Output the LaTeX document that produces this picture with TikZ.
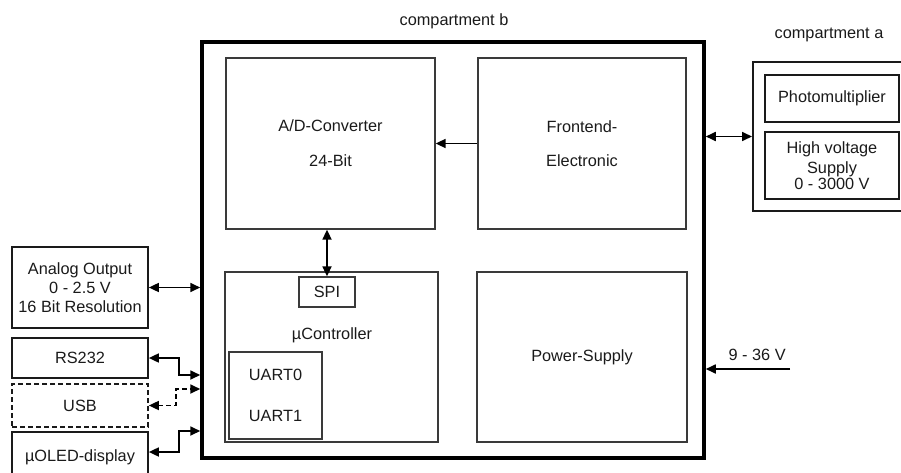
\documentclass[tikz,border=0pt]{standalone}
\usepackage{fontspec}
\setmainfont{Liberation Sans}
\usetikzlibrary{arrows.meta,positioning}
\definecolor{ink}{HTML}{1A1A1A}
\definecolor{edge}{HTML}{3A3A3A}
\tikzset{
  lbl/.style={font=\fontsize{16.3}{18.8}\selectfont,text=ink,align=center,inner sep=0pt},
  unit/.style={lbl,draw=edge,line width=1.3pt},
  sidebox/.style={lbl,draw=ink,line width=1.7pt,minimum width=136pt},
  frame/.style={draw=black,line width=3.5pt},
  arr/.style={-{Triangle[length=10pt,width=9pt]},line width=1.7pt,draw=black},
  biarr/.style={arr,{Triangle[length=10pt,width=9pt]}-{Triangle[length=10pt,width=9pt]}},
  dasharr/.style={biarr,dash pattern=on 5pt off 3pt},
}
\begin{document}
\begin{tikzpicture}[x=1pt,y=-1pt]
  \useasboundingbox (0,0) rectangle (901,473);
  \clip (0,0) rectangle (901,473);
  % compartment b
  \node[frame,minimum width=502pt,minimum height=416pt] (compB) at (453,250) {};
  \node[lbl] (titleB) at (454,21) {compartment b};
  \node[unit,minimum width=209pt,minimum height=171pt] (adc) at (330.5,143.5) {A/D-Converter\\[16pt]24-Bit};
  \node[unit,minimum width=208pt,minimum height=171pt] (fe) at (582,143.5) {Frontend-\\[15pt]Electronic};
  \node[unit,minimum width=213pt,minimum height=170pt] (mcu) at (331.5,357) {};
  \node[lbl] (mcutxt) at (332,335) {µController};
  \node[unit,minimum width=56pt,minimum height=30pt] (spi) at (327,292) {SPI};
  \node[unit,minimum width=93pt,minimum height=87pt,align=left] (uart) at (275.5,395.5) {UART0\\[22pt]UART1};
  \node[unit,minimum width=210pt,minimum height=170pt] (ps) at (582,357) {Power-Supply};
  % compartment a
  \node[draw=ink,line width=2pt,minimum width=157pt,minimum height=149pt] (compA) at (831.5,136.5) {};
  \node[lbl] (titleA) at (829,35) {compartment a};
  \node[sidebox,minimum width=134pt,minimum height=47pt] (pm) at (832,98.5) {Photomultiplier};
  \node[sidebox,minimum width=134pt,minimum height=67pt] (hv) at (832,165.5) {High voltage\\[2pt]Supply\\[-3pt]0 - 3000 V};
  % outside, left
  \node[sidebox,minimum height=81pt] (analog) at (80,287.5) {Analog Output\\0 - 2.5 V\\16 Bit Resolution};
  \node[sidebox,minimum height=40pt] (rs) at (80,358) {RS232};
  \node[sidebox,dash pattern=on 5pt off 3pt,minimum height=43pt] (usb) at (80,405.5) {USB};
  \node[sidebox,minimum height=50pt] (oled) at (80,457) {µOLED-display};
  \coordinate (inRS) at (compB.west |- 0,375);
  \coordinate (inUSB) at (compB.west |- 0,389);
  \coordinate (inOLED) at (compB.west |- 0,431);
  \coordinate (vin) at (790,369);
  % connections
  \draw[arr] (fe.west) -- (adc.east);
  \draw[biarr] (spi.north |- adc.south) -- (spi.north);
  \draw[biarr] (compA.west) -- (compA.west -| compB.east);
  \draw[biarr] (analog.east) -- (analog.east -| compB.west);
  \draw[biarr] (rs.east) -- ++(30,0) |- (inRS);
  \draw[dasharr] (usb.east) -- ++(27,0) |- (inUSB);
  \draw[biarr] (oled.east |- 0,452) -- ++(30,0) |- (inOLED);
  \draw[arr] (vin) -- node[lbl,above=7pt,pos=0.39] (vlabel) {9 - 36 V} (vin -| compB.east);
\end{tikzpicture}
\end{document}
